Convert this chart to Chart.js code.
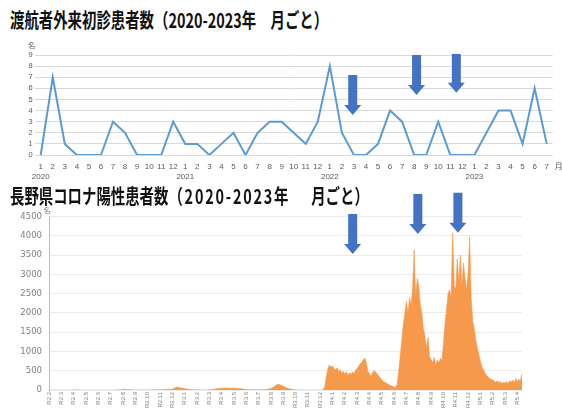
<!DOCTYPE html>
<html><head><meta charset="utf-8">
<script src="https://cdn.jsdelivr.net/npm/chart.js@4.4.0/dist/chart.umd.min.js"></script>
<style>
html,body{margin:0;padding:0;background:#fff;width:562px;height:410px;overflow:hidden;position:relative;}
#c1{position:absolute;left:0;top:36px;}
#c2{position:absolute;left:0;top:180px;}
.title{position:absolute;left:10px;font-family:"Noto Sans CJK JP";font-weight:700;font-size:20px;transform:scaleX(0.72);transform-origin:0 0;white-space:nowrap;color:#111;line-height:1;}
.wide{letter-spacing:2.5px;}
.gap{display:inline-block;width:9px;}
</style></head><body>
<canvas id="c1" width="562" height="150"></canvas>
<canvas id="c2" width="562" height="230"></canvas>
<div class="title" style="top:10px">渡航者外来初診患者数（2020-2023年　月ごと）</div>
<div class="title" style="top:186px">長野県コロナ陽性患者数<span class="wide">（2020-2023年</span>　<span class="gap"></span>月ごと）</div>
<script>
// ---- Top chart: monthly travel clinic first-visit patients ----
const topYears = ['2020', '2021', '2022', '2023'];
const topMonths = ['1','2','3','4','5','6','7','8','9','10','11','12'];
const visits2020 = [0, 7, 1, 0, 0, 0, 3, 2, 0, 0, 0, 3];
const visits2021 = [1, 1, 0, 1, 2, 0, 2, 3, 3, 2, 1, 3];
const visits2022 = [8, 2, 0, 0, 1, 4, 3, 0, 0, 3, 0, 0];
const visits2023 = [0, 2, 4, 4, 1, 6, 1];

// ---- Bottom chart: Nagano COVID positives (approx. 8 readings per month) ----
const bottomMonthLabels = ['R2.2','R2.3','R2.4','R2.5','R2.6','R2.7','R2.8','R2.9','R2.10','R2.11','R2.12',
  'R3.1','R3.2','R3.3','R3.4','R3.5','R3.6','R3.7','R3.8','R3.9','R3.10','R3.11','R3.12',
  'R4.1','R4.2','R4.3','R4.4','R4.5','R4.6','R4.7','R4.8','R4.9','R4.10','R4.11','R4.12',
  'R5.1','R5.2','R5.3','R5.4'];
const cases2020 = [
  0,0,0,0,0,0,0,1,  0,1,0,0,1,2,1,3,  4,6,5,3,2,2,1,1,  0,0,0,0,0,0,0,0,
  0,0,0,0,1,0,0,0,  0,1,0,2,3,4,6,8,  12,18,14,10,8,6,4,3, 2,3,1,2,2,1,2,1,
  2,3,4,3,5,4,6,5,  6,9,12,10,15,18,22,18, 20,40,60,75,70,60,50,45];
const cases2021 = [
  40,30,20,15,10,8,5,4,  4,3,3,2,3,2,3,4,  6,10,15,22,28,35,40,45,  48,52,55,50,45,52,48,44,
  50,46,42,38,34,30,24,18,  12,10,8,6,5,4,4,6,  5,6,8,10,12,15,20,30,  40,60,80,110,140,150,130,120,
  100,80,60,45,30,20,12,8,  5,3,2,2,1,1,1,1,  1,0,1,0,0,1,0,1,  2,1,3,100,350,550,650,600];
const cases2022 = [
  620,560,520,580,480,520,450,480,  420,470,380,450,400,470,430,520,
  560,620,680,720,780,830,700,480,  420,360,450,500,470,420,360,320,
  260,220,200,180,150,130,110,100,  80,70,150,500,900,1300,1700,2000,
  2300,2000,2400,2200,2600,3640,2400,2900,  2700,2200,2000,1600,1400,1100,1370,850,
  800,700,850,650,780,700,820,760,  1200,1700,2100,2500,2600,2400,4080,2700,
  2600,3400,2800,3500,2700,3300,2900,2600,  3000,3970,2400,1800,1600,1300,1100,900];
const cases2023 = [
  750,600,520,440,380,340,300,280,  260,230,200,240,190,220,170,200,
  180,220,160,240,200,260,180,300,  220,280,240,420];

// build top labels / data
const topLabels = [], topValues = [];
[visits2020, visits2021, visits2022, visits2023].forEach((arr, yi) => {
  arr.forEach((v, mi) => {
    topLabels.push(mi === 0 ? [topMonths[mi], topYears[yi]] : topMonths[mi]);
    topValues.push(v);
  });
});
// build bottom labels / data
const bottomValues = [].concat(cases2020, cases2021, cases2022, cases2023);
const PER_MONTH = 8;
const bottomLabels = bottomValues.map((v, i) => (i % PER_MONTH === 0 ? bottomMonthLabels[i / PER_MONTH] : ''));

const arrowPlugin = {
  id: 'arrows',
  afterDraw(chart, args, opts) {
    const ctx = chart.ctx, xs = chart.scales.x, ys = chart.scales.y;
    ctx.save();
    ctx.fillStyle = '#4472C4';
    (opts.items || []).forEach(a => {
      const x = xs.getPixelForValue(a.x);
      const yt = ys.getPixelForValue(a.top), yb = ys.getPixelForValue(a.tip);
      const sw = 4.5, hw = 8.5, hh = 10;
      ctx.beginPath();
      ctx.moveTo(x - sw, yt); ctx.lineTo(x + sw, yt); ctx.lineTo(x + sw, yb - hh);
      ctx.lineTo(x + hw, yb - hh); ctx.lineTo(x, yb); ctx.lineTo(x - hw, yb - hh);
      ctx.lineTo(x - sw, yb - hh); ctx.closePath(); ctx.fill();
    });
    (opts.texts || []).forEach(t => {
      ctx.fillStyle = t.color; ctx.font = t.font; ctx.textAlign = 'center'; ctx.textBaseline = 'middle';
      const ca = chart.chartArea;
      ctx.fillText(t.text, (t.side === 'right' ? ca.right : ca.left) + t.dx, (t.edge === 'bottom' ? ca.bottom : ca.top) + t.dy);
    });
    ctx.restore();
  }
};

new Chart(document.getElementById('c1'), {
  type: 'line',
  data: { labels: topLabels, datasets: [{ data: topValues, borderColor: '#5B9BD5', borderWidth: 2, pointRadius: 0, tension: 0, fill: false }] },
  plugins: [arrowPlugin],
  options: {
    responsive: false, animation: false, events: [],
    layout: { padding: { left: 0, right: 9.3, top: 19, bottom: 0 } },
    plugins: {
      legend: { display: false }, tooltip: { enabled: false },
      arrows: {
        items: [{ x: 25.9, top: 7.2, tip: 3.6 }, { x: 31.2, top: 9.0, tip: 5.4 }, { x: 34.5, top: 9.1, tip: 5.6 }],
        texts: [{ text: '名', side: 'left', edge: 'top', dx: -3, dy: -9.5, color: '#595959', font: '7px "Noto Sans CJK JP"' },
                { text: '月', side: 'right', edge: 'bottom', dx: 6, dy: 11, color: '#595959', font: '8px "Noto Sans CJK JP"' }]
      }
    },
    scales: {
      x: { type: 'category', offset: true, grid: { display: false, drawTicks: false }, border: { display: false },
           ticks: { autoSkip: false, maxRotation: 0, minRotation: 0, padding: 7, color: '#595959', font: { size: 8, family: 'Liberation Sans', lineHeight: 1.25 } },
           afterFit(s) { s.height = 31; } },
      y: { min: 0, max: 9, ticks: { stepSize: 1, autoSkip: false, padding: 2, color: '#595959', font: { size: 7.5, family: 'Liberation Sans' } },
           grid: { color: '#d9d9d9', drawTicks: false }, border: { display: false },
           afterFit(s) { s.width = 34.7; } }
    }
  }
});

new Chart(document.getElementById('c2'), {
  type: 'line',
  data: { labels: bottomLabels, datasets: [{ data: bottomValues, borderColor: '#F6994A', backgroundColor: '#F6994A', borderWidth: 0.6, pointRadius: 0, tension: 0, fill: 'origin' }] },
  plugins: [arrowPlugin],
  options: {
    responsive: false, animation: false, events: [],
    layout: { padding: { left: 0, right: 40, top: 36.7, bottom: 0 } },
    plugins: {
      legend: { display: false }, tooltip: { enabled: false },
      arrows: {
        items: [{ x: 197.1, top: 4570, tip: 3530 }, { x: 239.4, top: 5090, tip: 4050 }, { x: 265.4, top: 5120, tip: 4080 }],
        texts: [{ text: '名', side: 'left', edge: 'top', dx: -2, dy: -6, color: '#7f7f7f', font: '7px "Noto Sans CJK JP"' }]
      }
    },
    scales: {
      x: { type: 'category', offset: false, grid: { display: false, drawTicks: false }, border: { display: false },
           ticks: { autoSkip: false, maxRotation: 90, minRotation: 90, padding: 2, color: '#808080', font: { size: 6, family: 'Liberation Sans' } },
           afterFit(s) { s.height = 20; } },
      y: { min: 0, max: 4500, ticks: { stepSize: 500, autoSkip: false, padding: 7, color: '#808080', font: { size: 8.5, family: 'DejaVu Sans' }, callback: v => String(v) },
           grid: { color: '#ebebeb', drawTicks: false }, border: { display: true, color: '#bfbfbf' },
           afterFit(s) { s.width = 49; } }
    }
  }
});
</script>
</body></html>
